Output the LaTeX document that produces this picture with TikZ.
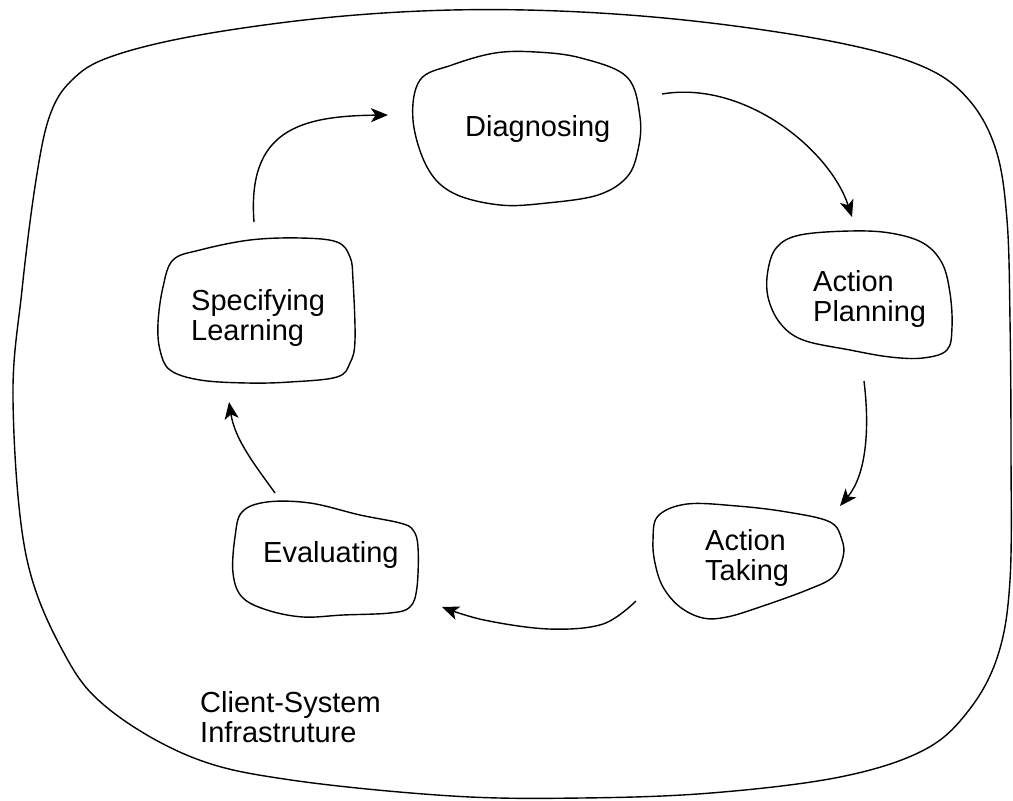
\documentclass[tikz,border=0pt]{standalone}
\usepackage{fontspec}
\setmainfont{Liberation Sans}
\usetikzlibrary{arrows.meta}
\tikzset{
  blob/.style={line width=1.4pt, line join=round},
  arr/.style={line width=1.4pt, -{Stealth[length=17pt,width=14pt,inset=4.5pt]}},
  lbl/.style={anchor=base west, inner sep=0pt, align=left, font=\fontsize{29}{30}\selectfont}
}
\begin{document}
\begin{tikzpicture}[x=1pt,y=-1pt]
\path[use as bounding box, fill=white] (0,0) rectangle (1013,801);
% outer client-system boundary
\draw[blob] plot[smooth cycle, tension=0.6] coordinates {
 (452,10) (581,12) (711,23) (840,43) (924,67) (969,100) (996,150) (1007,220)
 (1010,320) (1011,450) (1010,580) (998,655) (969,710) (924,750) (840,777)
 (711,793) (581,798) (452,796) (291,780) (194,758) (110,710) (65,655)
 (26,555) (13,400) (22,290) (36,180) (50,115) (72,80) (110,57) (194,36) (323,18)};
% Diagnosing blob
\draw[blob] plot[smooth cycle, tension=0.6] coordinates {
 (536,52) (581,58) (627,77) (640,117) (638,150) (627,177) (598,195) (547,203)
 (500,205) (453,193) (427,167) (413,120) (420,80) (452,65) (495,53)};
% Action Planning blob
\draw[blob] plot[smooth cycle, tension=0.6] coordinates {
 (850,231) (890,233) (923,243) (942,263) (950,293) (952,327) (947,350) (923,358)
 (890,357) (850,350) (803,340) (780,323) (768,297) (768,270) (777,247) (800,235)};
% Action Taking blob
\draw[blob] plot[smooth cycle, tension=0.6] coordinates {
 (687,504) (737,506) (787,512) (830,522) (842,540) (843,557) (833,577) (807,590)
 (760,607) (727,617) (703,618) (680,607) (663,587) (655,563) (653,540) (658,516)};
% Evaluating blob
\draw[blob] plot[smooth cycle, tension=0.6] coordinates {
 (267,502) (310,503) (360,515) (400,523) (413,530) (418,547) (417,587) (410,607)
 (390,613) (343,615) (303,617) (267,610) (242,597) (233,573) (235,537) (242,512)};
% Specifying Learning blob
\draw[blob] plot[smooth cycle, tension=0.6] coordinates {
 (200,250) (250,240) (300,238) (337,242) (350,257) (353,280) (355,340) (350,363)
 (337,377) (290,382) (247,383) (200,380) (170,370) (160,350) (158,323) (163,287) (173,260)};
% labels (base anchor = baseline of the last line)
\node[lbl] (diag) at (465,136) {Diagnosing};
\node[lbl] (plan) at (813,321) {Action\\Planning};
\node[lbl] (take) at (705,580) {Action\\Taking};
\node[lbl] (eval) at (263,562) {Evaluating};
\node[lbl] (spec) at (191,340) {Specifying\\Learning};
\node[lbl] (client) at (200,742) {Client-System\\Infrastruture};
% connector ends
\coordinate (diagout) at (662,94);
\coordinate (planin) at (852,217);
\coordinate (planout) at (864,381);
\coordinate (takein) at (840,506);
\coordinate (takeout) at (636,601);
\coordinate (evalin) at (442,607);
\coordinate (evalout) at (275,493);
\coordinate (specin) at (229,402);
\coordinate (specout) at (254,222);
\coordinate (diagin) at (388,115);
% arrows
\draw[arr] (diagout) .. controls (745,80) and (830,150) .. (planin);
\draw[arr] (planout) .. controls (870,430) and (866,475) .. (takein);
\draw[arr] plot[smooth, tension=0.6] coordinates {(takeout) (603,624) (549,629) (484,620) (evalin)};
\draw[arr] (evalout) .. controls (255,465) and (235,440) .. (specin);
\draw[arr] (specout) .. controls (247,130) and (300,116) .. (diagin);
\end{tikzpicture}
\end{document}
